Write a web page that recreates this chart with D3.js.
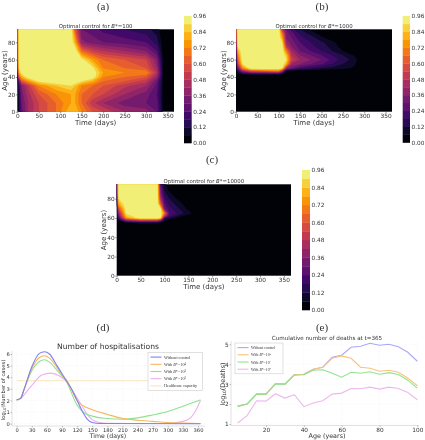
<!DOCTYPE html>
<html><head><meta charset="utf-8">
<script src="https://cdnjs.cloudflare.com/ajax/libs/d3/7.8.5/d3.min.js"></script>
<style>
html,body{margin:0;padding:0;background:#fff}
svg{display:block;filter:blur(.45px)}
text{font-family:"DejaVu Sans",sans-serif;fill:#333}
.serif{font-family:"Liberation Serif",serif}
</style></head><body><svg id="c" width="425" height="440"></svg>
<script>
// Contour levels
const levels = d3.range(0, 16).map(i => i * 0.06);
const barTicks = [0,0.12,0.24,0.36,0.48,0.6,0.72,0.84,0.96];
const timeTicks = [0,50,100,150,200,250,300,350];
const ageTicks = [0,20,40,60,80];

// Panel (a)
const timesA = [0,4,10,25,50,90,125,135,150,175,200,250,300,325,340,365];
const agesA = [0,10,20,30,35,40,45,50,60,70,80,95];
const controlA = [
 [0,.12,.27,.42,.54,.66,.84,.84,.72,.6,.54,.42,.39,.3,.05,0],
 [0,.12,.3,.42,.54,.66,.78,.78,.66,.5,.42,.33,.3,.27,.04,0],
 [0,.15,.33,.45,.6,.72,.78,.78,.66,.6,.54,.42,.33,.24,.04,0],
 [0,.2,.36,.5,.72,.84,.9,.84,.72,.66,.6,.5,.42,.27,.04,0],
 [0,.3,.6,.75,.92,.97,.97,.97,.9,.8,.66,.6,.5,.3,.04,0],
 [.1,.6,.8,.95,.97,.97,.97,.97,.97,.97,.72,.66,.6,.4,.05,0],
 [.2,.8,.93,.97,.97,.97,.97,.97,.97,.97,.78,.72,.72,.48,.06,0],
 [.3,.9,.97,.97,.97,.97,.97,.97,.97,.93,.72,.66,.6,.42,.05,0],
 [.4,.95,.97,.97,.97,.97,.97,.97,.94,.78,.66,.6,.54,.36,.04,0],
 [.4,.97,.97,.97,.97,.97,.97,.97,.66,.54,.48,.42,.36,.24,.03,0],
 [.45,.97,.97,.97,.97,.97,.97,.8,.38,.33,.3,.27,.24,.15,.02,0],
 [.5,.97,.97,.97,.97,.97,.97,.6,.3,.27,.22,.18,.14,.09,.01,0]
];

// Panel (b)
const timesB = [0,4,15,35,60,100,108,118,130,150,175,200,225,250,275,290,365];
const agesB = [0,40,43,47,50,55,60,65,70,75,80,85,90,95];
const controlB = [
 [0,0,0,0,0,0,0,0,0,0,0,0,0,0,0,0,0],
 [0,0,0,0,0,0,0,0,0,0,0,0,0,0,0,0,0],
 [0,.03,.06,.08,.08,.07,.05,0,0,0,0,0,0,0,0,0,0],
 [0,.15,.4,.6,.65,.7,.45,.05,.03,.02,.02,.01,.01,.01,0,0,0],
 [0,.3,.7,.97,.97,.97,.9,.4,.3,.2,.15,.12,.1,.08,.05,0,0],
 [0,.5,.9,.97,.97,.97,.97,.8,.42,.36,.3,.25,.18,.12,.08,.02,0],
 [0,.6,.97,.97,.97,.97,.97,.9,.54,.42,.36,.3,.22,.15,.1,.03,0],
 [0,.7,.97,.97,.97,.97,.97,.85,.48,.36,.3,.24,.18,.12,.06,0,0],
 [0,.8,.97,.97,.97,.97,.97,.7,.42,.3,.24,.18,.12,.06,.02,0,0],
 [.1,.9,.97,.97,.97,.97,.97,.5,.36,.27,.2,.15,.1,.03,0,0,0],
 [.2,.95,.97,.97,.97,.97,.9,.4,.33,.24,.18,.13,.08,.01,0,0,0],
 [.3,.97,.97,.97,.97,.97,.8,.35,.3,.2,.15,.08,.02,0,0,0,0],
 [.35,.97,.97,.97,.97,.97,.7,.33,.27,.17,.1,.03,0,0,0,0,0],
 [.4,.97,.97,.97,.97,.97,.5,.3,.2,.12,.05,0,0,0,0,0,0]
];

// Panel (c)
const timesC = [0,4,20,50,85,92,100,110,125,140,155,170,365];
const agesC = [0,52,55,58,60,62,65,70,75,80,85,90,95];
const controlC = [
 [0,0,0,0,0,0,0,0,0,0,0,0,0],
 [0,0,0,0,0,0,0,0,0,0,0,0,0],
 [0,0,.04,.1,.08,.03,.02,0,0,0,0,0,0],
 [0,.1,.45,.6,.6,.45,.1,.04,.02,0,0,0,0],
 [0,.2,.75,.97,.97,.9,.2,.12,.05,.02,0,0,0],
 [0,.3,.85,.97,.97,.97,.5,.2,.12,.06,.03,0,0],
 [0,.4,.92,.97,.97,.97,.7,.25,.18,.12,.07,.01,0],
 [0,.6,.97,.97,.97,.9,.3,.2,.14,.08,.02,0,0],
 [.1,.8,.97,.97,.97,.6,.25,.16,.1,.05,0,0,0],
 [.2,.9,.97,.97,.97,.45,.2,.12,.06,.01,0,0,0],
 [.3,.97,.97,.97,.97,.35,.15,.08,.03,0,0,0,0],
 [.35,.97,.97,.97,.97,.3,.1,.04,.01,0,0,0,0],
 [.4,.97,.97,.97,.97,.22,.08,.02,0,0,0,0,0]
];

// Panel (d)
const hospDaysBlue = [0,8,15,30,45,55,65,80,90,97,110,120,130,140,150,165,365];
const hospBlue = [2.05,2.2,3.0,4.9,6.05,6.2,6.0,5.0,4.3,3.8,2.9,2.0,1.1,.4,.1,.02,0];
const hospDaysOrange = [0,8,15,30,45,55,65,80,90,100,120,130,150,180,210,240,270,300,330,365];
const hospOrange = [2.05,2.2,3.0,4.75,5.7,5.85,5.65,4.85,4.2,3.7,2.0,1.6,1.2,.8,.45,.3,.2,.1,.05,.02];
const hospDaysGreen = [0,8,15,30,45,55,65,80,90,97,120,135,150,180,210,240,270,300,330,365];
const hospGreen = [2.05,2.2,3.0,4.55,5.35,5.5,5.3,4.6,4.1,3.75,1.6,.9,.65,.45,.38,.5,.75,1.05,1.5,2.05];
const hospDaysPink = [0,8,15,30,50,68,85,97,110,120,130,140,150,165,180,300,330,345,355,365];
const hospPink = [2.05,2.15,2.5,3.3,4.2,4.35,4.1,3.7,2.9,2.2,1.5,.8,.35,.1,.03,.02,.2,.5,1.1,2.0];
const capacityDays = [0,360];
const capacity = [3.7,3.7];
const hospXTicks = [0,30,60,90,120,150,180,210,240,270,300,330,360];
const hospYTicks = [0,1,2,3,4,5,6];
const hospSeries = [
 {label:"Without control",sup:"",color:"#8080f0",days:hospDaysBlue,v:hospBlue},
 {label:"With B*=10",sup:"4",color:"#f9b45c",days:hospDaysOrange,v:hospOrange},
 {label:"With B*=10",sup:"3",color:"#8fe38f",days:hospDaysGreen,v:hospGreen},
 {label:"With B*=10",sup:"2",color:"#eeb0ee",days:hospDaysPink,v:hospPink},
 {label:"Healthcare capacity",sup:"",color:"#fbe3bf",days:capacityDays,v:capacity}
];

// Panel (e)
const ageGroups = [5,10,15,20,25,30,35,40,45,50,55,60,65,70,75,80,85,90,95,100];
const deathsBlue = [1.9,2.0,2.5,2.5,3.03,3.0,3.48,3.5,3.75,3.85,4.35,4.45,4.85,4.9,5.05,4.95,5.0,4.88,4.6,4.15];
const deathsOrange = [1.9,2.0,2.5,2.5,3.03,3.0,3.47,3.5,3.75,3.85,4.3,4.42,4.3,3.85,3.8,3.65,3.7,3.6,3.3,2.92];
const deathsGreen = [1.87,2.0,2.5,2.5,3.0,3.0,3.45,3.47,3.7,3.72,3.55,3.35,3.6,3.55,3.62,3.5,3.58,3.48,3.2,2.8];
const deathsPink = [1.05,1.42,2.17,2.15,2.52,2.3,2.47,1.87,2.05,2.17,2.5,2.55,2.78,2.77,2.85,2.75,2.85,2.78,2.58,2.22];
const deathXTicks = [20,40,60,80,100];
const deathYTicks = [1,2,3,4,5];
const deathSeries = [
 {label:"Without control",sup:"",color:"#a9a9f7",v:deathsBlue},
 {label:"With B*=10",sup:"4",color:"#f9c27c",v:deathsOrange},
 {label:"With B*=10",sup:"3",color:"#8fe38f",v:deathsGreen},
 {label:"With B*=10",sup:"2",color:"#eeb8ee",v:deathsPink}
];

const svg = d3.select("#c");
const ink = "#333";
const colorOf = i => d3.interpolateInferno(.015 + i / 16);

function titleB(g, x, y, size, prefix, suffix){
  const t = g.append("text").attr("x",x).attr("y",y).attr("text-anchor","middle").attr("font-size",size);
  t.append("tspan").text(prefix);
  t.append("tspan").attr("font-style","italic").text("B");
  t.append("tspan").text(suffix);
}

function heat(box, bar, times, ages, grid, suffix){
  const x = d3.scaleLinear().domain([0,365]).range([box.x0,box.x1]);
  const y = d3.scaleLinear().domain([0,95]).range([box.y1,box.y0]);
  const ni = d3.scaleLinear().domain(d3.range(times.length)).range(times).clamp(true);
  const nj = d3.scaleLinear().domain(d3.range(ages.length)).range(ages).clamp(true);
  const w = times.length, h = ages.length;
  const contour = d3.contours().size([w,h]).smooth(true).thresholds(levels.slice(1));
  const proj = d3.geoTransform({point(px,py){ this.stream.point(x(ni(px-.5)), y(nj(py-.5))); }});
  const path = d3.geoPath(proj);
  const g = svg.append("g");
  g.append("rect").attr("x",box.x0).attr("y",box.y0).attr("width",box.x1-box.x0).attr("height",box.y1-box.y0).attr("fill",colorOf(0));
  g.selectAll("path.b").data(contour(grid.flat())).join("path")
    .attr("d",path).attr("fill",(d,i)=>colorOf(i+1));
  const ax = d3.axisBottom(x).tickValues(timeTicks).tickSize(1.5).tickPadding(1);
  const ay = d3.axisLeft(y).tickValues(ageTicks).tickSize(1.5).tickPadding(.5);
  const gx = g.append("g").attr("transform",`translate(0,${box.y1})`).call(ax);
  const gy = g.append("g").attr("transform",`translate(${box.x0},0)`).call(ay);
  [gx,gy].forEach(a=>{a.select(".domain").remove();a.selectAll("line").attr("stroke",ink).attr("stroke-width",.5);a.selectAll("text").attr("font-size",5.8).attr("font-family",null).attr("fill",ink);});
  g.append("text").attr("x",(box.x0+box.x1)/2).attr("y",box.y1+13.5).attr("text-anchor","middle").attr("font-size",7).text("Time (days)");
  g.append("text").attr("transform",`translate(${box.x0-10.5},${(box.y0+box.y1)/2}) rotate(-90)`).attr("text-anchor","middle").attr("font-size",7).text("Age (years)");
  titleB(g,(box.x0+box.x1)/2,box.y0-1.5,5.4,"Optimal control for ","*="+suffix);
  // colourbar
  const c = d3.scaleLinear().domain([0,.96]).range([bar.y1,bar.y0]);
  g.selectAll("rect.lv").data(levels).join("rect").attr("class","lv")
    .attr("x",bar.x0).attr("width",bar.x1-bar.x0)
    .attr("y",d=>c(d+.06)).attr("height",d=>c(d)-c(d+.06)+.3)
    .attr("fill",(d,i)=>colorOf(i));
  const cy = d3.axisRight(c).tickValues(barTicks).tickFormat(d3.format(".2f")).tickSize(0).tickPadding(1.5);
  const gc = g.append("g").attr("transform",`translate(${bar.x1},0)`).call(cy);
  gc.select(".domain").remove();
  gc.selectAll("text").attr("font-size",5.8).attr("font-family",null).attr("fill",ink);
}

heat({x0:17.3,x1:174,y0:29.3,y1:111.7},{x0:184,x1:191.7,y0:16,y1:143},timesA,agesA,controlA,"100");
heat({x0:236,x1:392,y0:29.3,y1:111.7},{x0:402.7,x1:410,y0:16,y1:142.5},timesB,agesB,controlB,"1000");
heat({x0:116.7,x1:291,y0:184.3,y1:275.7},{x0:302,x1:310,y0:170,y1:310},timesC,agesC,controlC,"10000");

// Sub-figure letters
[["(a)",103,10],["(b)",322,10],["(c)",212,163],["(d)",103,331],["(e)",322,331]].forEach(d=>{
  svg.append("text").attr("class","serif").attr("x",d[1]).attr("y",d[2]).attr("text-anchor","middle").attr("font-size",11).attr("fill","#222").text(d[0]);
});

function legend(g, x0, y0, w, rowH, series, fs, lineW){
  g.append("rect").attr("x",x0).attr("y",y0).attr("width",w).attr("height",series.length*rowH+2)
    .attr("fill","#fff").attr("stroke","#ccc").attr("stroke-width",.6);
  series.forEach((s,i)=>{
    const yy = y0+rowH*(i+.5)+1;
    g.append("line").attr("x1",x0+2.5).attr("x2",x0+2.5+lineW).attr("y1",yy).attr("y2",yy).attr("stroke",s.color).attr("stroke-width",1.1);
    const t = g.append("text").attr("class","serif").attr("x",x0+lineW+5).attr("y",yy+1.5).attr("font-size",fs).attr("fill","#555");
    if(s.sup){
      t.append("tspan").text("With ");
      t.append("tspan").attr("font-style","italic").text("B");
      t.append("tspan").text("*=10");
      t.append("tspan").attr("dy",-1.3).attr("font-size",fs*.7).text(s.sup);
    } else t.text(s.label);
  });
}

function frame(g, left, right, top, bottom, x, y, xt, yt, fs){
  g.selectAll("line.gh").data(yt).join("line").attr("x1",left).attr("x2",right).attr("y1",d=>y(d)).attr("y2",d=>y(d)).attr("stroke","#eee").attr("stroke-width",.4).attr("stroke-dasharray","1 1");
  g.selectAll("line.gv").data(xt).join("line").attr("y1",top).attr("y2",bottom).attr("x1",d=>x(d)).attr("x2",d=>x(d)).attr("stroke","#eee").attr("stroke-width",.4).attr("stroke-dasharray","1 1");
  g.append("path").attr("d",`M${left},${top}V${bottom}H${right}`).attr("fill","none").attr("stroke","#ccc").attr("stroke-width",.6);
  const gx = g.append("g").attr("transform",`translate(0,${bottom})`).call(d3.axisBottom(x).tickValues(xt).tickFormat(d3.format("d")).tickSize(1.5).tickPadding(.8));
  const gy = g.append("g").attr("transform",`translate(${left},0)`).call(d3.axisLeft(y).tickValues(yt).tickFormat(d3.format("d")).tickSize(1.5).tickPadding(.8));
  [gx,gy].forEach(a=>{a.select(".domain").remove();a.selectAll("line").attr("stroke","#666").attr("stroke-width",.4);a.selectAll("text").attr("font-size",fs).attr("font-family",null).attr("fill",ink);});
}

// (d)
{
  const g = svg.append("g");
  const x = d3.scaleLinear().domain([0,360]).range([16.7,198]);
  const y = d3.scaleLinear().domain([0,6]).range([423.7,354]);
  frame(g,12,205,351,426,x,y,hospXTicks,hospYTicks,5.2);
  const line = d3.line().curve(d3.curveMonotoneX);
  hospSeries.slice().reverse().forEach(s=>{
    g.append("path").attr("fill","none").attr("stroke",s.color).attr("stroke-width",1.1)
      .attr("d",line(s.days.map((d,i)=>[x(d),y(s.v[i])])));
  });
  legend(g,148,352.5,54.5,7.2,hospSeries,4.2,11);
  g.append("text").attr("x",108).attr("y",349).attr("text-anchor","middle").attr("font-size",7.6).text("Number of hospitalisations");
  g.append("text").attr("x",108).attr("y",438).attr("text-anchor","middle").attr("font-size",6.2).text("Time (days)");
  const yl = g.append("text").attr("transform","translate(5,390) rotate(-90)").attr("text-anchor","middle").attr("font-size",5.2);
  yl.append("tspan").text("log");
  yl.append("tspan").attr("dy",1.2).attr("font-size",3.6).text("10");
  yl.append("tspan").attr("dy",-1.2).text("(Number of cases)");
}
// (e)
{
  const g = svg.append("g");
  const x = d3.scaleLinear().domain([20,100]).range([266,417.3]);
  const y = d3.scaleLinear().domain([1,5]).range([424,344.3]);
  frame(g,231,419,341,425.5,x,y,deathXTicks,deathYTicks,5.8);
  const line = d3.line().x((d,i)=>x(ageGroups[i])).y(d=>y(d));
  deathSeries.forEach(s=>{
    g.append("path").attr("fill","none").attr("stroke",s.color).attr("stroke-width",1.1).attr("d",line(s.v));
  });
  legend(g,235,343,48,7.2,deathSeries,3.8,11);
  g.append("text").attr("x",327).attr("y",340).attr("text-anchor","middle").attr("font-size",5.6).text("Cumulative number of deaths at t=365");
  g.append("text").attr("x",327).attr("y",438).attr("text-anchor","middle").attr("font-size",6.4).text("Age (years)");
  const yl = g.append("text").attr("transform","translate(224.5,384) rotate(-90)").attr("text-anchor","middle").attr("font-size",6.4);
  yl.append("tspan").text("log");
  yl.append("tspan").attr("dy",1.2).attr("font-size",4.4).text("10");
  yl.append("tspan").attr("dy",-1.2).text("(Deaths)");
}
</script></body></html>
